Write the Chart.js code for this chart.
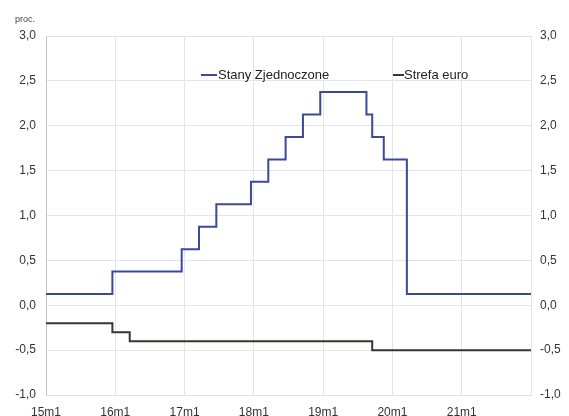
<!DOCTYPE html>
<html lang="pl">
<head>
    <meta charset="UTF-8">
    <title>Stopy procentowe</title>
    <script src="https://cdn.jsdelivr.net/npm/chart.js"></script>
    <style>
        body { margin: 0; background: #fff; }
        #wrap { position: relative; width: 569px; height: 416px; overflow: hidden; font-family: "Liberation Sans", Arial, sans-serif; color: #222; }
        #unit { position: absolute; left: 15px; top: 14px; font-size: 9px; color: #444; }
        .leg { position: absolute; top: 67px; font-size: 13px; line-height: 15px; white-space: nowrap; }
        .legline { position: absolute; top: 74px; height: 2px; }
    </style>
</head>
<body>
<div id="wrap">
    <canvas id="chart" width="569" height="416"></canvas>
    <div id="unit">proc.</div>
    <div class="legline" style="left:201px;width:16px;background:#3c4899"></div>
    <div class="leg" style="left:218px">Stany Zjednoczone</div>
    <div class="legline" style="left:393px;width:11px;background:#35382e"></div>
    <div class="leg" style="left:404px">Strefa euro</div>
</div>

<script>
    // monthly points, 15m1 .. 22m1
    const years = [15, 16, 17, 18, 19, 20, 21, 22];
    const shownTicks = ['15m1', '16m1', '17m1', '18m1', '19m1', '20m1', '21m1'];

    const usRate = [
        0.125, 0.125, 0.125, 0.125, 0.125, 0.125, 0.125, 0.125, 0.125, 0.125, 0.125, 0.125,
        0.375, 0.375, 0.375, 0.375, 0.375, 0.375, 0.375, 0.375, 0.375, 0.375, 0.375, 0.375,
        0.625, 0.625, 0.625, 0.875, 0.875, 0.875, 1.125, 1.125, 1.125, 1.125, 1.125, 1.125,
        1.375, 1.375, 1.375, 1.625, 1.625, 1.625, 1.875, 1.875, 1.875, 2.125, 2.125, 2.125,
        2.375, 2.375, 2.375, 2.375, 2.375, 2.375, 2.375, 2.375, 2.125, 1.875, 1.875, 1.625,
        1.625, 1.625, 1.625, 0.125, 0.125, 0.125, 0.125, 0.125, 0.125, 0.125, 0.125, 0.125,
        0.125, 0.125, 0.125, 0.125, 0.125, 0.125, 0.125, 0.125, 0.125, 0.125, 0.125, 0.125,
        0.125
    ];

    const euroRate = [
        -0.2, -0.2, -0.2, -0.2, -0.2, -0.2, -0.2, -0.2, -0.2, -0.2, -0.2, -0.2,
        -0.3, -0.3, -0.3, -0.4, -0.4, -0.4, -0.4, -0.4, -0.4, -0.4, -0.4, -0.4,
        -0.4, -0.4, -0.4, -0.4, -0.4, -0.4, -0.4, -0.4, -0.4, -0.4, -0.4, -0.4,
        -0.4, -0.4, -0.4, -0.4, -0.4, -0.4, -0.4, -0.4, -0.4, -0.4, -0.4, -0.4,
        -0.4, -0.4, -0.4, -0.4, -0.4, -0.4, -0.4, -0.4, -0.4, -0.5, -0.5, -0.5,
        -0.5, -0.5, -0.5, -0.5, -0.5, -0.5, -0.5, -0.5, -0.5, -0.5, -0.5, -0.5,
        -0.5, -0.5, -0.5, -0.5, -0.5, -0.5, -0.5, -0.5, -0.5, -0.5, -0.5, -0.5,
        -0.5
    ];

    let labels = [];
    years.forEach(y => {
        for (let m = 1; m <= 12; m++) {
            if (labels.length < usRate.length) labels.push(y + 'm' + m);
        }
    });

    const tickFont = { family: "'Liberation Sans', Arial, sans-serif", size: 12 };
    const gridColor = '#e4e4e4';
    const fmt = v => v.toFixed(1).replace('.', ',');

    new Chart(document.getElementById('chart'), {
        type: 'line',
        data: {
            labels: labels,
            datasets: [
                { label: 'Stany Zjednoczone', data: usRate, borderColor: '#3c4899', borderWidth: 2, pointRadius: 0, stepped: 'middle', yAxisID: 'y' },
                { label: 'Strefa euro', data: euroRate, borderColor: '#35382e', borderWidth: 2, pointRadius: 0, stepped: 'middle', yAxisID: 'y' }
            ]
        },
        options: {
            responsive: false,
            animation: false,
            layout: { padding: { top: 36, left: 0, right: 0, bottom: 0 } },
            plugins: { legend: { display: false }, tooltip: { enabled: false } },
            scales: {
                x: {
                    ticks: {
                        autoSkip: false, maxRotation: 0, padding: 10, font: tickFont, color: '#333',
                        callback: function (v, i) {
                            const l = this.getLabelForValue(v);
                            return shownTicks.includes(l) ? l : '';
                        }
                    },
                    grid: {
                        drawTicks: false,
                        color: c => (c.index % 12 === 0 ? gridColor : 'rgba(0,0,0,0)')
                    },
                    border: { color: gridColor },
                    afterFit: s => { s.height = 21; }
                },
                y: {
                    min: -1, max: 3,
                    ticks: { stepSize: 0.5, padding: 10, font: tickFont, color: '#333', callback: fmt },
                    grid: { drawTicks: false, color: gridColor },
                    border: { color: '#c4c4c4' },
                    afterFit: s => { s.width = 46; }
                },
                y2: {
                    position: 'right',
                    min: -1, max: 3,
                    ticks: { stepSize: 0.5, padding: 9, font: tickFont, color: '#333', callback: fmt },
                    grid: { display: false, drawTicks: false },
                    border: { color: gridColor },
                    afterFit: s => { s.width = 38; }
                }
            }
        }
    });
</script>
</body>
</html>
